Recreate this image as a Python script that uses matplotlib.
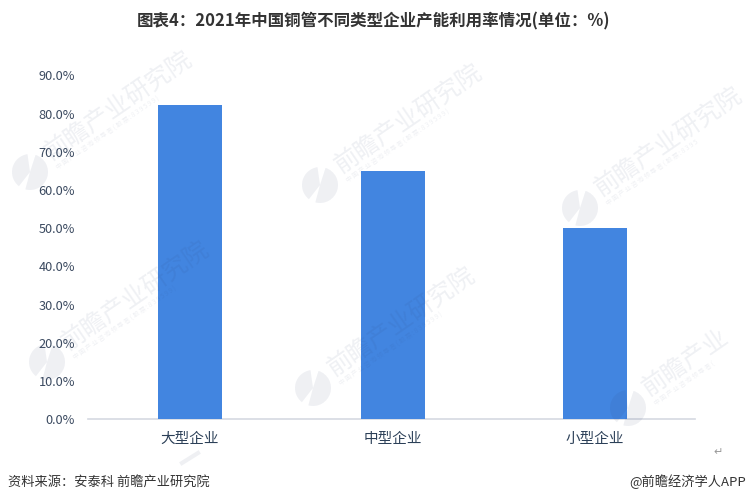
import matplotlib
matplotlib.use("Agg")
import matplotlib.pyplot as plt
from matplotlib.patches import Wedge
from matplotlib.lines import Line2D

plt.rcParams['font.family'] = ['Noto Sans CJK SC', 'DejaVu Sans']

categories = ['大型企业', '中型企业', '小型企业']
values = [82.2, 64.9, 50.0]
y_ticks = [0, 10, 20, 30, 40, 50, 60, 70, 80, 90]
y_labels = [f'{v:.1f}%' for v in y_ticks]
title = '图表4：2021年中国铜管不同类型企业产能利用率情况(单位：%)'
source = '资料来源：安泰科 前瞻产业研究院'
credit = '@前瞻经济学人APP'
watermark = '前瞻产业研究院'
watermark_sub = '中 国 产 业 咨 询 领 导 者 ( 股 票 : 8 3 9 5 9 9 )'
watermark_sub_edge = '中 国 产 业 咨 询 领 导 者 ( 股 票 : 8 3 9 5'
watermark_short = '前瞻产业'
watermark_sub_short = '中 国 产 业 咨 询 领 导 者 ('

W, H = 748, 503
fig = plt.figure(figsize=(W / 100, H / 100), dpi=100, facecolor='white')
ax = fig.add_axes([88 / W, 1 - 419 / H, 607 / W, (419 - 75.5) / H])

xs = list(range(len(categories)))
ax.bar(xs, values, width=0.316, color='#4285e0', zorder=3)
ax.set_xlim(-0.504, 2.494)
ax.set_ylim(0, 90)
ax.set_xticks(xs)
ax.set_xticklabels(categories, fontsize=10.5, color='#2c4058')
ax.set_yticks(y_ticks)
ax.set_yticklabels(y_labels, fontsize=9.2, color='#3b4a60')
ax.tick_params(axis='both', length=0)
ax.tick_params(axis='x', pad=9)
ax.tick_params(axis='y', pad=9.4)
for s in ['top', 'right', 'left']:
    ax.spines[s].set_visible(False)
ax.spines['bottom'].set_color('#d5d9e2')
ax.spines['bottom'].set_linewidth(1.2)
ax.patch.set_alpha(0)


def px(x, y):
    return x / W, 1 - y / H


fig.text(*px(373.5, 21), title, fontsize=11.9, fontweight='bold', color='#333333', ha='center', va='center')
fig.text(*px(7.5, 482), source, fontsize=9.5, color='#333333', ha='left', va='center')
fig.text(*px(746, 482), credit, fontsize=9.5, color='#333333', ha='right', va='center')
fig.text(*px(718, 452), '↵', fontsize=8, color='#999999', ha='center', va='center', family='DejaVu Sans')

# faint watermark stamps laid over the chart
ink = '#2a3a6a'
alpha = 0.075
stamps = [(30, 172, watermark, watermark_sub), (320, 185, watermark, watermark_sub),
          (580, 208, watermark, watermark_sub_edge), (47, 362, watermark, watermark_sub),
          (313, 388, watermark, watermark_sub), (628, 408, watermark_short, watermark_sub_short)]
for mx, my, main_text, sub_text in stamps:
    cx, cy = mx / 100, (H - my) / 100
    for t1, t2 in [(-105, 72), (98, 232)]:
        fig.add_artist(Wedge((cx, cy), 0.18, t1, t2, facecolor=ink, edgecolor='none', alpha=alpha,
                             transform=fig.dpi_scale_trans, zorder=5))
    fig.text(*px(mx + 17, my - 17), main_text, fontsize=17.8, color=ink, alpha=alpha,
             rotation=34.5, rotation_mode='anchor', ha='left', va='center', zorder=5)
    fig.text(*px(mx + 27, my - 4), sub_text, fontsize=4.6, color=ink, alpha=alpha,
             rotation=34.5, rotation_mode='anchor', ha='left', va='center', zorder=5)

fig.add_artist(Line2D([182 / W, 198 / W], [1 - 463 / H, 1 - 453 / H], color=ink, alpha=alpha, lw=3,
                      transform=fig.transFigure, zorder=5))

fig.savefig('out.png', dpi=100)
